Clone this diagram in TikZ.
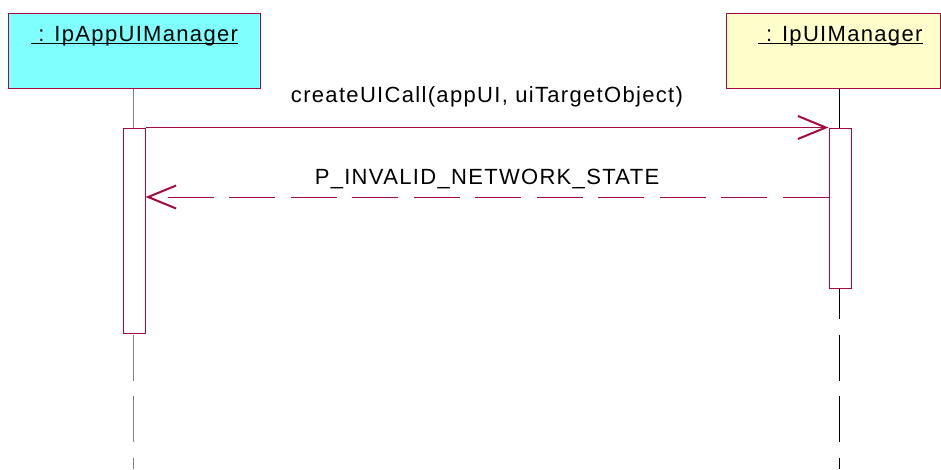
\documentclass[tikz,border=0pt]{standalone}
\usepackage{fontspec}
\setmainfont{Liberation Sans}[LetterSpace=6]
\usepackage{xcolor}
\usepackage{tikz}
\usetikzlibrary{arrows.meta}

\definecolor{umlborder}{RGB}{165,10,65}
\definecolor{appfill}{RGB}{128,255,255}
\definecolor{mgrfill}{RGB}{255,255,204}

\begin{document}
\begin{tikzpicture}[x=1pt,y=-1pt,
    objbox/.style={draw=umlborder,line width=1pt,minimum width=#1,minimum height=75pt,inner sep=0pt},
    objname/.style={font=\fontsize{22}{26}\selectfont,inner sep=0pt,anchor=base},
    lifeline/.style={line width=0.8pt,dash pattern=on 46pt off 15.5pt},
    activation/.style={draw=umlborder,fill=white,line width=1pt,minimum width=22pt,minimum height=#1,inner sep=0pt},
    call/.style={draw=umlborder,line width=0.9pt,-{Straight Barb[length=28pt,width=23pt,line width=2pt]}},
    reply/.style={call,dash pattern=on 46pt off 15.5pt},
    msglabel/.style={font=\fontsize{22}{26}\selectfont,inner sep=0pt,anchor=base}]
    \useasboundingbox (0,0) rectangle (941,469);
    \node[objbox=252pt,fill=appfill] (appmgr) at (134,50.5) {};
    \node[objbox=214pt,fill=mgrfill] (uimgr) at (833,50.5) {};
    \node[objname] (appname) at (134.5,41.5) {\ : IpAppUIManager};
    \node[objname] (uiname) at (840.5,41.5) {\ : IpUIManager};
    \draw[line width=1.5pt] ([yshift=-2pt]appname.base west) -- ([yshift=-2pt]appname.base east);
    \draw[line width=1.5pt] ([yshift=-2pt]uiname.base west) -- ([yshift=-2pt]uiname.base east);
    \coordinate (append) at (133,469);
    \coordinate (uiend) at (839,469);
    \draw[lifeline,gray] (appmgr.south -| append) -- (append);
    \draw[lifeline] (uimgr.south -| uiend) -- (uiend);
    \node[activation=205pt] (actapp) at (134,230.5) {};
    \node[activation=160pt] (actui) at (840,208) {};
    \draw[call] (actapp.north east) -- (actui.north west)
        node[msglabel,midway,yshift=25pt] {createUICall(appUI, uiTargetObject)};
    \draw[reply] (actui.west |- 0,197) -- (actapp.east |- 0,197)
        node[msglabel,midway,yshift=13pt] {P\_INVALID\_NETWORK\_STATE};
\end{tikzpicture}
\end{document}
